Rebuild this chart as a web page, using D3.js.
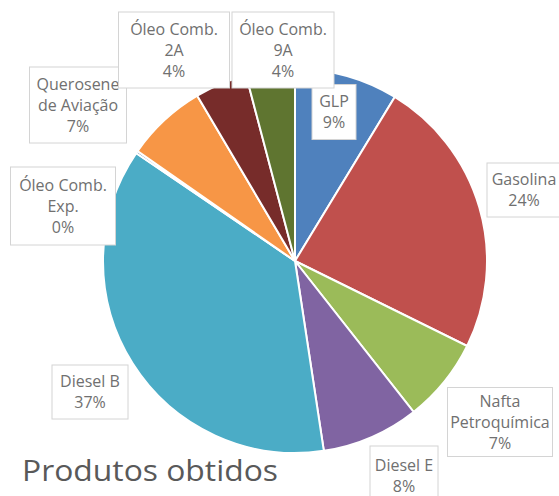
<!DOCTYPE html>
<html>
<head>
<meta charset="utf-8">
<script src="https://cdn.jsdelivr.net/npm/d3@7"></script>
<style>
  body { margin: 0; background: #fff; }
  svg { display: block; font-family: "Open Sans", "Lato", sans-serif; }
</style>
</head>
<body>
<div id="vis"></div>
<script>
// Data
const products = ['GLP', 'Gasolina', 'Nafta Petroquímica', 'Diesel E', 'Diesel B',
                  'Óleo Comb. Exp.', 'Querosene de Aviação', 'Óleo Comb. 2A', 'Óleo Comb. 9A'];
const shares = [8.7, 23.6, 7.1, 8.2, 36.9, 0.2, 6.8, 4.4, 4.1];
const labelLines = [
    ['GLP'], ['Gasolina'], ['Nafta', 'Petroquímica'], ['Diesel E'], ['Diesel B'],
    ['Óleo Comb.', 'Exp.'], ['Querosene', 'de Aviação'], ['Óleo Comb.', '2A'], ['Óleo Comb.', '9A']
];
const colors = ['#4f81bd', '#c0504d', '#9bbb59', '#8064a2', '#4bacc6',
                '#2c4d75', '#f79646', '#772c2a', '#5f7530'];

// Label box layout (centre x, centre y, width, height) - manual, as in the original
const boxes = [
    [334, 112, 44, 55], [524, 190, 74, 54], [500, 422, 105, 69], [404, 476, 68, 60],
    [90, 392, 76, 54], [63, 206, 105, 78], [78, 105, 97, 76], [174, 50, 111, 76], [283, 50, 102, 76]
];

const width = 559, height = 496;
const cx = 295, cy = 261, radius = 192;
const lineH = 21;

const svg = d3.select('#vis')
    .append('svg')
    .attr('width', width)
    .attr('height', height);

const total = d3.sum(shares);
const pieData = d3.pie().sort(null).value(d => d)(shares);
const arc = d3.arc().innerRadius(0).outerRadius(radius);

const color = d3.scaleOrdinal().domain(products).range(colors);

const g = svg.append('g').attr('transform', `translate(${cx},${cy})`);

g.selectAll('path')
    .data(pieData)
    .join('path')
    .attr('d', arc)
    .attr('fill', (d, i) => color(products[i]))
    .attr('stroke', '#fff')
    .attr('stroke-width', 2);

// Data labels (later boxes sit on top of earlier ones)
const labels = svg.selectAll('.label')
    .data(d3.range(products.length))
    .join('g')
    .attr('class', 'label')
    .attr('transform', i => `translate(${boxes[i][0]},${boxes[i][1]})`);

labels.append('rect')
    .attr('x', i => -boxes[i][2] / 2)
    .attr('y', i => -boxes[i][3] / 2)
    .attr('width', i => boxes[i][2])
    .attr('height', i => boxes[i][3])
    .attr('fill', '#fff')
    .attr('stroke', '#d4d4d4')
    .attr('stroke-width', 1);

labels.each(function (i) {
    const lines = labelLines[i].concat([Math.round(shares[i] / total * 100) + '%']);
    const t = d3.select(this).append('text')
        .attr('text-anchor', 'middle')
        .attr('fill', '#707070')
        .style('font-size', '16px');
    lines.forEach((s, k) => {
        t.append('tspan')
            .attr('x', 0)
            .attr('y', (k - (lines.length - 1) / 2) * lineH + 5.5)
            .text(s);
    });
});

// Title
svg.append('text')
    .attr('x', 22)
    .attr('y', 481)
    .attr('fill', '#595959')
    .attr('textLength', 256)
    .attr('lengthAdjust', 'spacingAndGlyphs')
    .style('font-size', '29px')
    .text('Produtos obtidos');
</script>
</body>
</html>
